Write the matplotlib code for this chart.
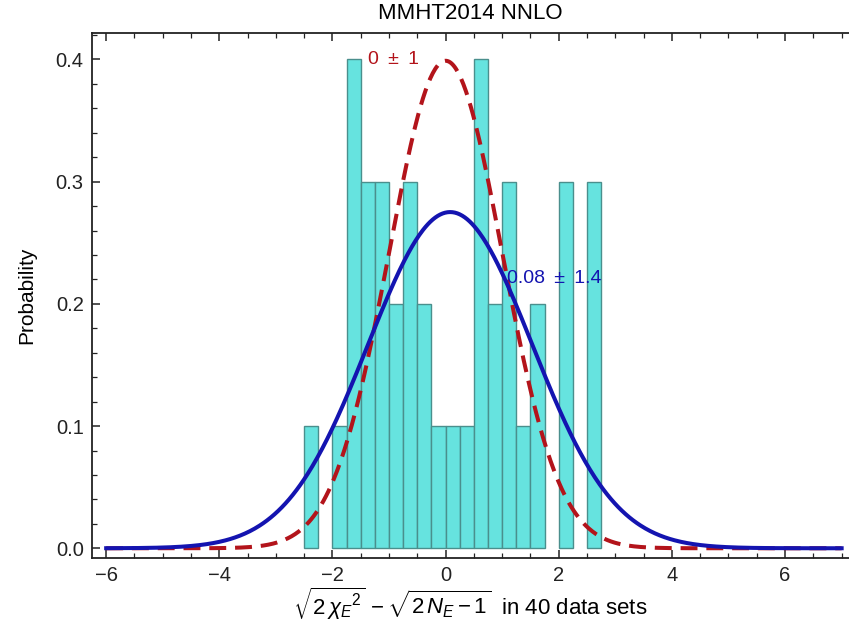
import matplotlib
matplotlib.use("Agg")
import matplotlib.pyplot as plt
import numpy as np
from matplotlib.ticker import MultipleLocator

# histogram bins (left edge, width 0.25) and probabilities
bin_left = [-2.5, -2.0, -1.75, -1.5, -1.25, -1.0, -0.75, -0.5, -0.25,
            0.0, 0.25, 0.5, 0.75, 1.0, 1.25, 1.5, 2.0, 2.5]
bin_height = [0.1, 0.1, 0.4, 0.3, 0.3, 0.2, 0.3, 0.2, 0.1,
              0.1, 0.1, 0.4, 0.2, 0.3, 0.1, 0.2, 0.3, 0.3]
bin_width = 0.25

# gaussian curves: (mean, sigma)
ref_mean, ref_sigma = 0.0, 1.0
fit_mean, fit_sigma = 0.08, 1.45

plt.rcParams['font.family'] = ['Liberation Sans', 'DejaVu Sans']
plt.rcParams['mathtext.fontset'] = 'custom'
plt.rcParams['mathtext.rm'] = 'Liberation Sans'
plt.rcParams['mathtext.it'] = 'Liberation Sans:italic'


def gauss(x, mu, s):
    return np.exp(-0.5 * ((x - mu) / s) ** 2) / (s * np.sqrt(2 * np.pi))


fig = plt.figure(figsize=(8.49, 6.21), dpi=100)
ax = fig.add_axes([0.1084, 0.1014, 0.8916, 0.8455])

ax.bar(bin_left, bin_height, width=bin_width, align='edge',
       color='#66e3df', edgecolor='#4a8f8d', linewidth=1.0, zorder=1)

x = np.linspace(-6, 7, 600)
ax.plot(x, gauss(x, ref_mean, ref_sigma), color='#b3141b', lw=2.9,
        dashes=(4.2, 2.2), zorder=2)
ax.plot(x, gauss(x, fit_mean, fit_sigma), color='#1414b0', lw=2.9, zorder=3)

ax.text(-1.37, 0.40, '0 \u2009±\u2009 1', color='#b3141b', fontsize=14, va='center', ha='left')
ax.text(1.09, 0.221, '0.08 \u2009±\u2009 1.4', color='#1414b0', fontsize=14, va='center', ha='left')

ax.set_xlim(-6.25, 7.13)
ax.set_ylim(-0.008, 0.4217)
ax.xaxis.set_major_locator(MultipleLocator(2))
ax.xaxis.set_minor_locator(MultipleLocator(0.5))
ax.yaxis.set_major_locator(MultipleLocator(0.1))
ax.yaxis.set_minor_locator(MultipleLocator(0.02))
ax.yaxis.set_major_formatter(plt.FuncFormatter(lambda v, p: f'{v:.1f}'))
ax.xaxis.set_major_formatter(plt.FuncFormatter(lambda v, p: f'{v:.0f}'.replace('-', '\u2212')))

ax.spines['right'].set_visible(False)
for s in ['left', 'bottom', 'top']:
    ax.spines[s].set_linewidth(1.3)
    ax.spines[s].set_color('#222222')
ax.tick_params(which='both', direction='in', top=True, right=False,
               color='#222222', labelsize=14.5, labelcolor='#222222')
ax.tick_params(which='major', length=6, width=1.1, pad=6)
ax.tick_params(which='minor', length=3.5, width=0.9)

ax.set_title('MMHT2014 NNLO', fontsize=16, pad=10)
ax.set_ylabel('Probability', fontsize=15, labelpad=14)
ax.set_xlabel(r'$\sqrt{2\,\chi_E{}^{2}}\,-\sqrt{2\,N_E-1}$  in 40 data sets',
              fontsize=16, labelpad=0)

fig.savefig('out.png', dpi=100)
